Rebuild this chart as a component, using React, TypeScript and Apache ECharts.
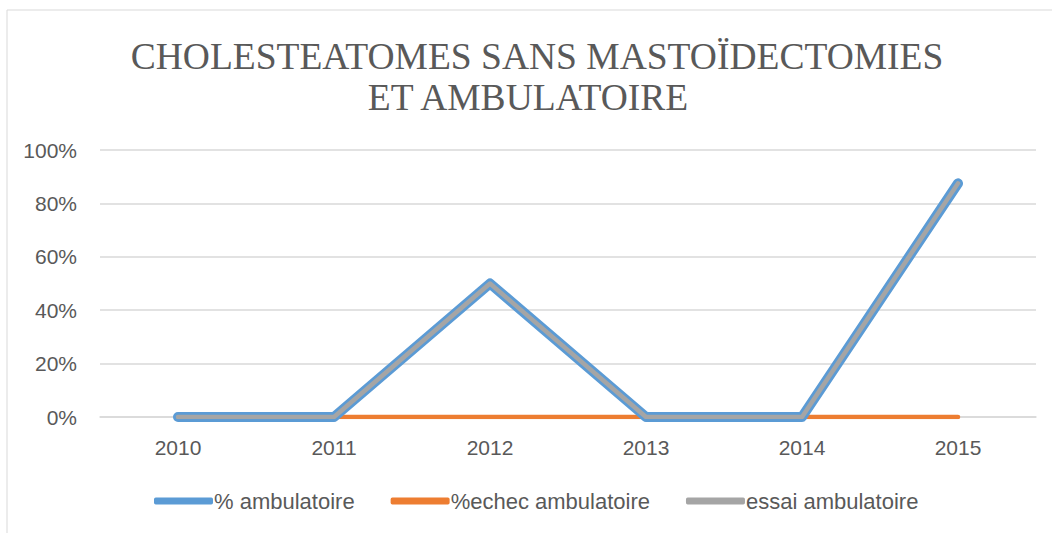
import React, { useEffect, useRef } from "react";
import * as echarts from "echarts";

const categories = ["2010", "2011", "2012", "2013", "2014", "2015"];
const pctAmbulatoire = [0, 0, 0.5, 0, 0, 0.875];
const pctEchec = [0, 0, 0, 0, 0, 0];
const essaiAmbulatoire = [0, 0, 0.5, 0, 0, 0.875];
const titleLines = ["CHOLESTEATOMES SANS MASTOÏDECTOMIES", "ET AMBULATOIRE"];
const seriesNames = ["% ambulatoire", "%echec ambulatoire", "essai ambulatoire"];

export default function App() {
  const ref = useRef<HTMLDivElement>(null);
  useEffect(() => {
    const chart = echarts.init(ref.current!, undefined, { renderer: "svg" });
    const textColor = "#595959";
    const sans = "'Liberation Sans', Arial, sans-serif";
    const serif = "37.5px 'Liberation Serif', 'Times New Roman', serif";
    chart.setOption({
      animation: false,
      graphic: [
        {
          type: "rect",
          shape: { x: 7, y: 10, width: 1200, height: 700 },
          style: { fill: "none", stroke: "#D9D9D9", lineWidth: 1 },
          silent: true,
        },
        {
          type: "text",
          x: 537,
          y: 56,
          style: { text: titleLines[0], font: serif, fill: textColor, align: "center", verticalAlign: "middle" },
        },
        {
          type: "text",
          x: 528,
          y: 97,
          style: { text: titleLines[1], font: serif, fill: textColor, align: "center", verticalAlign: "middle" },
        },
      ],
      grid: { left: 100, right: 16, top: 150, bottom: 116, containLabel: false },
      legend: {
        data: seriesNames,
        left: 149,
        top: 485,
        icon: "roundRect",
        itemWidth: 59,
        itemHeight: 7,
        itemGap: 36,
        textStyle: { color: textColor, fontSize: 22, fontFamily: sans, padding: [0, 0, 0, -4] },
      },
      xAxis: {
        type: "category",
        data: categories,
        boundaryGap: true,
        axisLine: { lineStyle: { color: "#D9D9D9", width: 1.5 } },
        axisTick: { show: false },
        axisLabel: { color: textColor, fontSize: 21, fontFamily: sans, margin: 20 },
      },
      yAxis: {
        type: "value",
        min: 0,
        max: 1,
        interval: 0.2,
        axisLine: { show: false },
        axisTick: { show: false },
        splitLine: { lineStyle: { color: "#D9D9D9", width: 1.5 } },
        axisLabel: {
          color: textColor,
          fontSize: 21,
          fontFamily: sans,
          margin: 23,
          formatter: (v: number) => Math.round(v * 100) + "%",
        },
      },
      series: [
        {
          name: seriesNames[0],
          type: "line",
          data: pctAmbulatoire,
          showSymbol: false,
          symbol: "none",
          z: 3,
          itemStyle: { color: "#5B9BD5" },
          lineStyle: { color: "#5B9BD5", width: 10, cap: "round", join: "round" },
        },
        {
          name: seriesNames[1],
          type: "line",
          data: pctEchec,
          showSymbol: false,
          symbol: "none",
          z: 2,
          itemStyle: { color: "#ED7D31" },
          lineStyle: { color: "#ED7D31", width: 4.5, cap: "round", join: "round" },
        },
        {
          name: seriesNames[2],
          type: "line",
          data: essaiAmbulatoire,
          showSymbol: false,
          symbol: "none",
          z: 4,
          itemStyle: { color: "#A5A5A5" },
          lineStyle: { color: "#A5A5A5", width: 4.5, cap: "round", join: "round" },
        },
      ],
    });
    return () => chart.dispose();
  }, []);
  return (
    <div
      ref={ref}
      style={{ position: "fixed", left: 0, top: 0, width: 1052, height: 533, background: "#fff" }}
    />
  );
}
